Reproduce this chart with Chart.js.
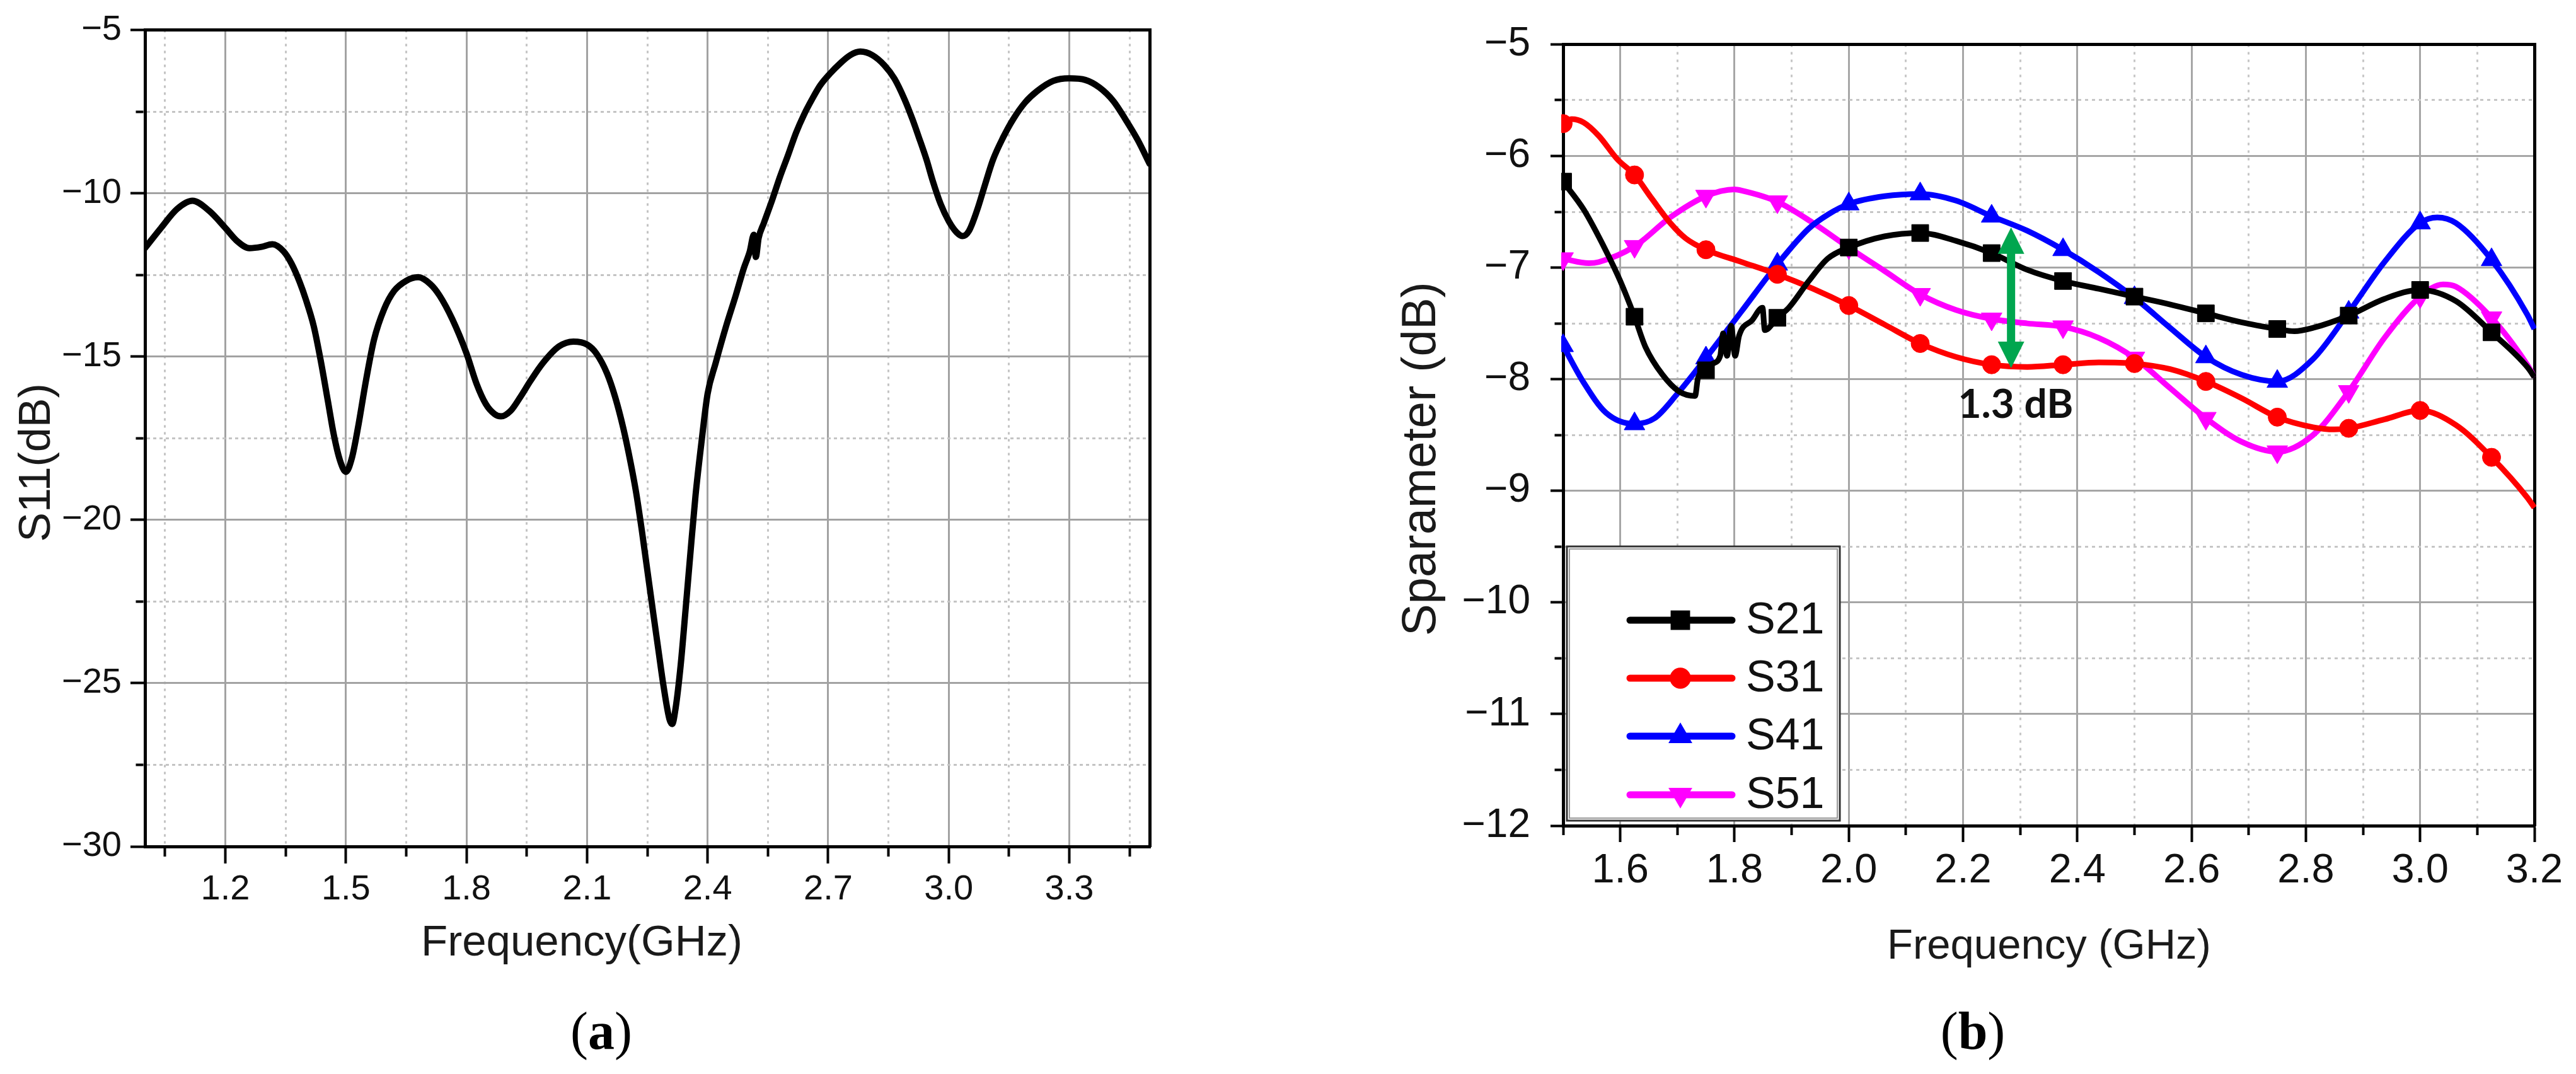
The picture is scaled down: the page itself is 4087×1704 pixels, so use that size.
<!DOCTYPE html>
<html>
<head>
<meta charset="utf-8">
<script src="https://cdn.jsdelivr.net/npm/chart.js@4.4.1/dist/chart.umd.min.js"></script>
<style>
html,body{margin:0;padding:0;background:#fff;}
body{width:4087px;height:1704px;position:relative;overflow:hidden;}
#wa{position:absolute;left:0;top:0;width:2100px;height:1704px;}
#wb{position:absolute;left:2100px;top:0;width:1987px;height:1704px;}
canvas{display:block;}
</style>
</head>
<body>
<div id="wa"><canvas id="ca" width="2100" height="1704"></canvas></div>
<div id="wb"><canvas id="cb" width="1987" height="1704"></canvas></div>
<script>
// ================= DATA: panel (a) =================
const s11Freq = [1.0,1.04,1.08,1.118,1.16,1.2,1.23,1.26,1.29,1.317,1.345,1.365,1.385,1.40,1.42,1.437,1.455,1.47,1.485,1.5,1.515,1.53,1.55,1.57,1.595,1.62,1.65,1.68,1.71,1.733,1.765,1.8,1.825,1.848,1.87,1.886,1.91,1.934,1.96,1.99,2.03,2.066,2.10,2.123,2.15,2.17,2.19,2.208,2.222,2.236,2.25,2.265,2.278,2.29,2.305,2.312,2.32,2.333,2.345,2.358,2.37,2.385,2.40,2.42,2.446,2.47,2.49,2.505,2.515,2.52,2.527,2.54,2.56,2.58,2.6,2.62,2.64,2.66,2.68,2.705,2.73,2.755,2.78,2.81,2.84,2.865,2.89,2.91,2.925,2.945,2.96,2.98,3.0,3.02,3.035,3.05,3.07,3.09,3.11,3.135,3.16,3.19,3.22,3.26,3.3,3.34,3.375,3.41,3.44,3.47,3.5];
const s11Val = [-11.68,-11.06,-10.48,-10.23,-10.54,-11.06,-11.47,-11.68,-11.64,-11.56,-11.78,-12.16,-12.72,-13.24,-14.07,-15.1,-16.35,-17.4,-18.17,-18.53,-18.1,-17.18,-15.73,-14.48,-13.55,-12.99,-12.68,-12.57,-12.78,-13.13,-13.86,-14.9,-15.83,-16.45,-16.76,-16.83,-16.66,-16.24,-15.73,-15.2,-14.69,-14.54,-14.63,-14.9,-15.52,-16.24,-17.18,-18.22,-19.15,-20.29,-21.54,-22.88,-24.02,-25.06,-26.1,-26.25,-25.8,-24.45,-22.78,-20.91,-19.25,-17.6,-16.14,-15.2,-14.07,-13.13,-12.3,-11.78,-11.27,-11.95,-11.37,-10.91,-10.23,-9.5,-8.84,-8.15,-7.59,-7.12,-6.7,-6.33,-6.02,-5.77,-5.66,-5.77,-6.08,-6.49,-7.12,-7.74,-8.26,-8.98,-9.61,-10.33,-10.85,-11.2,-11.31,-11.16,-10.54,-9.75,-8.98,-8.3,-7.74,-7.22,-6.87,-6.56,-6.48,-6.53,-6.76,-7.18,-7.74,-8.36,-9.1];
const aXTicks = [1.05,1.2,1.35,1.5,1.65,1.8,1.95,2.1,2.25,2.4,2.55,2.7,2.85,3.0,3.15,3.3,3.45];
const aXTickLabels = ['','1.2','','1.5','','1.8','','2.1','','2.4','','2.7','','3.0','','3.3',''];
const aYTicks = [-30,-27.5,-25,-22.5,-20,-17.5,-15,-12.5,-10,-7.5,-5];
const aYTickLabels = ['\u221230','','\u221225','','\u221220','','\u221215','','\u221210','','\u22125'];

// ================= DATA: panel (b) =================
const s21Freq = [1.5,1.536,1.575,1.6,1.625,1.644,1.674,1.703,1.731,1.736,1.75,1.762,1.775,1.78,1.787,1.794,1.801,1.808,1.831,1.849,1.853,1.875,1.895,1.93,1.963,2.0,2.0625,2.125,2.1875,2.25,2.3125,2.375,2.4375,2.5,2.5625,2.625,2.6875,2.75,2.78,2.8125,2.875,2.9375,3.0,3.0625,3.125,3.1875,3.2];
const s21Val  = [-6.23,-6.48,-6.85,-7.12,-7.44,-7.71,-7.96,-8.11,-8.15,-7.99,-7.92,-7.86,-7.79,-7.59,-7.79,-7.52,-7.79,-7.61,-7.47,-7.36,-7.56,-7.45,-7.36,-7.12,-6.92,-6.82,-6.72,-6.69,-6.76,-6.87,-7.02,-7.12,-7.19,-7.26,-7.33,-7.41,-7.49,-7.55,-7.57,-7.54,-7.43,-7.28,-7.2,-7.3,-7.58,-7.89,-7.98];
const s31Freq = [1.5,1.515,1.536,1.5625,1.595,1.625,1.655,1.6875,1.715,1.75,1.8125,1.875,1.9375,2.0,2.0625,2.125,2.1875,2.25,2.3125,2.375,2.4375,2.5,2.5625,2.625,2.6875,2.75,2.8125,2.85,2.875,2.9375,3.0,3.0625,3.125,3.1875,3.2];
const s31Val  = [-5.71,-5.67,-5.70,-5.82,-6.03,-6.17,-6.38,-6.6,-6.74,-6.84,-6.95,-7.06,-7.19,-7.34,-7.51,-7.68,-7.8,-7.87,-7.89,-7.87,-7.85,-7.86,-7.91,-8.02,-8.17,-8.34,-8.43,-8.45,-8.44,-8.36,-8.28,-8.41,-8.7,-9.06,-9.15];
const s41Freq = [1.5,1.536,1.575,1.625,1.66,1.7,1.75,1.8125,1.875,1.93,1.965,2.0,2.0625,2.125,2.1875,2.25,2.3125,2.375,2.4375,2.5,2.5625,2.625,2.6875,2.75,2.8125,2.875,2.9375,3.0,3.03,3.0625,3.125,3.1875,3.2];
const s41Val  = [-7.7,-8.03,-8.3,-8.4,-8.35,-8.13,-7.81,-7.39,-6.97,-6.65,-6.52,-6.43,-6.36,-6.34,-6.4,-6.54,-6.67,-6.84,-7.04,-7.27,-7.54,-7.8,-7.96,-8.02,-7.82,-7.4,-6.95,-6.6,-6.55,-6.6,-6.93,-7.42,-7.55];
const s51Freq = [1.5,1.545,1.5625,1.625,1.6875,1.75,1.8,1.8125,1.875,1.9375,2.0,2.0625,2.125,2.1875,2.25,2.3125,2.375,2.4375,2.5,2.5625,2.625,2.6875,2.75,2.8125,2.875,2.9375,3.0,3.04,3.0625,3.125,3.1875,3.2];
const s51Val  = [-6.92,-6.96,-6.95,-6.81,-6.55,-6.36,-6.3,-6.31,-6.41,-6.6,-6.82,-7.03,-7.24,-7.38,-7.46,-7.5,-7.53,-7.63,-7.81,-8.08,-8.35,-8.56,-8.65,-8.5,-8.11,-7.63,-7.26,-7.15,-7.17,-7.45,-7.87,-7.98];
const bMarkerFreqs = [1.5,1.625,1.75,1.875,2.0,2.125,2.25,2.375,2.5,2.625,2.75,2.875,3.0,3.125];
const bXTicks = [1.5,1.6,1.7,1.8,1.9,2.0,2.1,2.2,2.3,2.4,2.5,2.6,2.7,2.8,2.9,3.0,3.1,3.2];
const bXTickLabels = ['','1.6','','1.8','','2.0','','2.2','','2.4','','2.6','','2.8','','3.0','','3.2'];
const bYTicks = [-12,-11.5,-11,-10.5,-10,-9.5,-9,-8.5,-8,-7.5,-7,-6.5,-6,-5.5,-5];
const bYTickLabels = ['\u221212','','\u221211','','\u221210','','\u22129','','\u22128','','\u22127','','\u22126','','\u22125'];
const seriesNames = ['S21','S31','S41','S51'];
const seriesColors = ['#000000','#ff0000','#0000ff','#ff00ff'];
const arrowFreq = 2.284, arrowFrom = -6.64, arrowTo = -7.90;
const noteText = '1.3 dB', noteFreq = 2.292, noteVal = -8.23;

// ================= helpers =================
const FONT = '"Liberation Sans", Arial, Helvetica, sans-serif';
const SERIF = '"Liberation Serif", "Times New Roman", serif';

function makeAxis(o) {
  const horiz = (o.position === 'bottom');
  const half = 2.5;
  const isMajor = c => c && c.tick !== undefined && o.labels[c.index] !== '';
  const isMinor = c => c && c.tick !== undefined && o.labels[c.index] === '';
  return {
    type: 'linear', position: o.position, min: o.min, max: o.max,
    afterBuildTicks: s => { s.ticks = o.ticks.map(v => ({ value: v })); },
    afterFit: s => { if (horiz) s.height = o.size; else s.width = o.size; },
    ticks: {
      autoSkip: false, maxRotation: 0, minRotation: 0, padding: o.pad, color: '#111',
      font: { family: FONT, size: o.fontSize },
      callback: (v, i) => o.labels[i]
    },
    grid: {
      display: true, drawOnChartArea: true, drawTicks: true,
      tickLength: o.tickLen, tickWidth: 4, tickColor: '#000',
      color: c => isMajor(c) ? o.majorColor : o.minorColor,
      lineWidth: 3,
      tickBorderDash: c => isMinor(c) ? (horiz ? [o.minorLen, 1000] : [0, o.tickLen - half - o.minorLen, o.minorLen, 1000]) : []
    },
    border: { display: true, color: '#000', width: 5, dash: c => isMinor(c) ? o.dash : [] }
  };
}
function frameAxis(position, min, max) {
  const horiz = (position === 'top' || position === 'bottom');
  return {
    type: 'linear', position, min, max, display: true,
    grid: { display: false, drawTicks: false },
    ticks: { display: false },
    border: { display: true, color: '#000', width: 5 },
    afterFit: s => { if (horiz) s.height = 0; else s.width = 0; }
  };
}
function caption(ctx, letter, cx, cy, size) {
  ctx.save();
  ctx.fillStyle = '#000';
  ctx.textBaseline = 'middle'; ctx.textAlign = 'left';
  const reg = size + 'px ' + SERIF, bold = 'bold ' + size + 'px ' + SERIF;
  ctx.font = reg; const wp = ctx.measureText('(').width, wq = ctx.measureText(')').width;
  ctx.font = bold; const wl = ctx.measureText(letter).width;
  let x = cx - (wp + wl + wq) / 2;
  ctx.font = reg; ctx.fillText('(', x, cy); x += wp;
  ctx.font = bold; ctx.fillText(letter, x, cy); x += wl;
  ctx.font = reg; ctx.fillText(')', x, cy);
  ctx.restore();
}
function drawMarker(ctx, style, x, y, r, rot, color) {
  ctx.save();
  ctx.fillStyle = color;
  ctx.beginPath();
  if (style === 'rect') {
    const s = r * Math.SQRT1_2;
    ctx.rect(x - s, y - s, 2 * s, 2 * s);
  } else if (style === 'circle') {
    ctx.arc(x, y, r, 0, Math.PI * 2);
  } else {
    let a = (rot || 0) * Math.PI / 180;
    ctx.moveTo(x + Math.sin(a) * r, y - Math.cos(a) * r);
    a += 2 * Math.PI / 3;
    ctx.lineTo(x + Math.sin(a) * r, y - Math.cos(a) * r);
    a += 2 * Math.PI / 3;
    ctx.lineTo(x + Math.sin(a) * r, y - Math.cos(a) * r);
    ctx.closePath();
  }
  ctx.fill();
  ctx.restore();
}
const isMarker = x => typeof x === 'number' && bMarkerFreqs.some(m => Math.abs(m - x) < 1e-6);

// ================= panel (a) =================
const panelAPlugin = {
  id: 'panelA',
  afterDraw(chart) {
    const ctx = chart.ctx;
    ctx.save();
    ctx.fillStyle = '#1a1a1a';
    ctx.font = '69px ' + FONT;
    ctx.textAlign = 'center'; ctx.textBaseline = 'alphabetic';
    ctx.fillText('Frequency(GHz)', 923, 1516);
    ctx.translate(60, 734);
    ctx.rotate(-Math.PI / 2);
    ctx.font = '70px ' + FONT;
    ctx.textBaseline = 'middle';
    ctx.fillText('S11(dB)', 0, 0);
    ctx.restore();
    caption(ctx, 'a', 954, 1642, 84);
  }
};

new Chart(document.getElementById('ca'), {
  type: 'line',
  data: {
    datasets: [{
      label: 'S11',
      data: s11Freq.map((f, i) => ({ x: f, y: s11Val[i] })),
      borderColor: '#000', borderWidth: 10, pointRadius: 0,
      cubicInterpolationMode: 'monotone', borderJoinStyle: 'round', borderCapStyle: 'round', fill: false
    }]
  },
  options: {
    responsive: false, animation: false, devicePixelRatio: 1,
    layout: { padding: { left: 0, top: 36, right: 276, bottom: 161 } },
    scales: {
      x: makeAxis({ position: 'bottom', min: 1.0, max: 3.5, ticks: aXTicks, labels: aXTickLabels, size: 200,
        tickLen: 27, minorLen: 13, pad: 8, fontSize: 56, majorColor: '#a2a2a2', minorColor: '#c4c4c4', dash: [4, 7] }),
      y: makeAxis({ position: 'left', min: -30, max: -5, ticks: aYTicks, labels: aYTickLabels, size: 230,
        tickLen: 23, minorLen: 12, pad: 14, fontSize: 56, majorColor: '#a2a2a2', minorColor: '#c4c4c4', dash: [5, 5] }),
      x2: frameAxis('top', 1.0, 3.5),
      y2: frameAxis('right', -30, -5)
    },
    plugins: { legend: { display: false }, tooltip: { enabled: false } }
  },
  plugins: [panelAPlugin]
});

// ================= panel (b) =================
const styles = [
  { style: 'rect', r: 19, rot: 0 },
  { style: 'circle', r: 14.5, rot: 0 },
  { style: 'triangle', r: 19, rot: 0 },
  { style: 'triangle', r: 19, rot: 180 }
];
function series(i, freq, vals) {
  const st = styles[i];
  return {
    label: seriesNames[i],
    data: freq.map((f, k) => ({ x: f, y: vals[k] })),
    borderColor: seriesColors[i], backgroundColor: seriesColors[i], borderWidth: 9,
    pointStyle: st.style, pointRotation: st.rot,
    pointBackgroundColor: seriesColors[i], pointBorderColor: seriesColors[i], pointBorderWidth: 1,
    pointRadius: c => (c && c.raw && isMarker(c.raw.x)) ? st.r : 0,
    cubicInterpolationMode: 'monotone', borderJoinStyle: 'round', fill: false,
    clip: { left: 3, right: 3, top: false, bottom: false }
  };
}

const panelBPlugin = {
  id: 'panelB',
  afterDatasetsDraw(chart) {
    const ctx = chart.ctx, xs = chart.scales.x, ys = chart.scales.y;
    // green double arrow
    const ax = xs.getPixelForValue(arrowFreq);
    const ay1 = ys.getPixelForValue(arrowFrom), ay2 = ys.getPixelForValue(arrowTo);
    const hw = 21, hh = 42, sw = 13;
    ctx.save();
    ctx.fillStyle = '#00a64f';
    ctx.fillRect(ax - sw / 2, ay1 + hh - 2, sw, ay2 - ay1 - 2 * hh + 4);
    ctx.beginPath(); ctx.moveTo(ax, ay1); ctx.lineTo(ax + hw, ay1 + hh); ctx.lineTo(ax - hw, ay1 + hh); ctx.closePath(); ctx.fill();
    ctx.beginPath(); ctx.moveTo(ax, ay2); ctx.lineTo(ax + hw, ay2 - hh); ctx.lineTo(ax - hw, ay2 - hh); ctx.closePath(); ctx.fill();
    // note
    ctx.fillStyle = '#111';
    ctx.font = 'bold 64px Lato, ' + FONT;
    ctx.textAlign = 'center'; ctx.textBaseline = 'middle';
    ctx.fillText(noteText, xs.getPixelForValue(noteFreq), ys.getPixelForValue(noteVal));
    ctx.restore();

    // legend
    const bx = 386, by = 867, bw = 433, bh = 435;
    ctx.save();
    ctx.fillStyle = '#fff';
    ctx.fillRect(bx, by, bw, bh);
    ctx.strokeStyle = '#9a9a9a'; ctx.lineWidth = 2;
    ctx.strokeRect(bx + 4, by + 4, bw - 8, bh - 8);
    ctx.strokeStyle = '#333'; ctx.lineWidth = 3;
    ctx.strokeRect(bx, by, bw, bh);
    const rowY = [984, 1076, 1168, 1261];
    chart.data.datasets.forEach((d, i) => {
      const y = rowY[i];
      ctx.strokeStyle = d.borderColor; ctx.lineWidth = 11; ctx.lineCap = 'round';
      ctx.beginPath(); ctx.moveTo(486, y); ctx.lineTo(648, y); ctx.stroke();
      const st = styles[i];
      drawMarker(ctx, st.style, 566, y, st.r * 1.15, st.rot, d.borderColor);
      ctx.fillStyle = '#111';
      ctx.font = '70px ' + FONT;
      ctx.textAlign = 'left'; ctx.textBaseline = 'middle';
      ctx.fillText(d.label, 670, y + 2);
    });
    ctx.restore();
  },
  afterDraw(chart) {
    const ctx = chart.ctx;
    ctx.save();
    ctx.fillStyle = '#1a1a1a';
    ctx.font = '67px ' + FONT;
    ctx.textAlign = 'center'; ctx.textBaseline = 'alphabetic';
    ctx.fillText('Frequency (GHz)', 1151, 1521);
    ctx.translate(156, 728);
    ctx.rotate(-Math.PI / 2);
    ctx.font = '76px ' + FONT;
    ctx.textBaseline = 'middle';
    ctx.fillText('Sparameter (dB)', 0, 0);
    ctx.restore();
    caption(ctx, 'b', 1030, 1642, 84);
  }
};

new Chart(document.getElementById('cb'), {
  type: 'line',
  data: {
    datasets: [
      series(0, s21Freq, s21Val),
      series(1, s31Freq, s31Val),
      series(2, s41Freq, s41Val),
      series(3, s51Freq, s51Val)
    ]
  },
  options: {
    responsive: false, animation: false, devicePixelRatio: 1,
    layout: { padding: { left: 0, top: 46, right: 66, bottom: 194 } },
    scales: {
      x: makeAxis({ position: 'bottom', min: 1.5, max: 3.2, ticks: bXTicks, labels: bXTickLabels, size: 200,
        tickLen: 26, minorLen: 12, pad: 7, fontSize: 65, majorColor: '#a6a6a6', minorColor: '#c6c6c6', dash: [4, 8] }),
      y: makeAxis({ position: 'left', min: -12, max: -5, ticks: bYTicks, labels: bYTickLabels, size: 380,
        tickLen: 20, minorLen: 11, pad: 32, fontSize: 64, majorColor: '#a6a6a6', minorColor: '#c6c6c6', dash: [5, 6] }),
      x2: frameAxis('top', 1.5, 3.2),
      y2: frameAxis('right', -12, -5)
    },
    plugins: { legend: { display: false }, tooltip: { enabled: false } }
  },
  plugins: [panelBPlugin]
});
</script>
</body>
</html>
